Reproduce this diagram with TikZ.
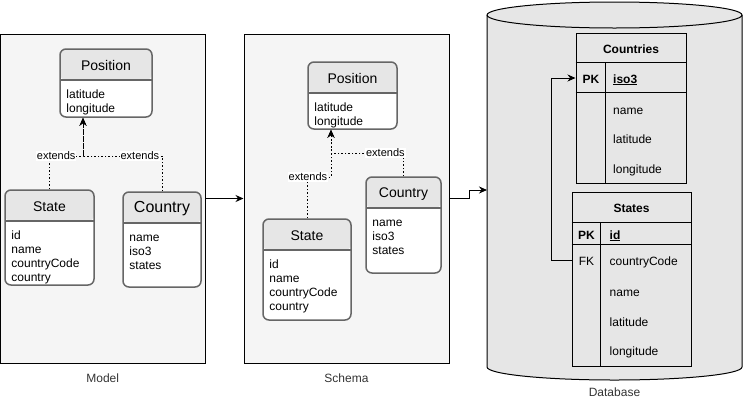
\documentclass[tikz,border=0pt]{standalone}
\usepackage{fontspec}
\setmainfont{Liberation Sans}
\usetikzlibrary{arrows.meta,positioning,calc}
\definecolor{panelfill}{HTML}{F5F5F5}
\definecolor{classline}{HTML}{666666}
\definecolor{classhead}{HTML}{E6E6E6}
\definecolor{dbfill}{HTML}{E6E6E6}
\definecolor{captiontext}{HTML}{333333}

\begin{document}
\begin{tikzpicture}[x=1pt, y=-1pt,
  panel/.style={draw, fill=panelfill, line width=1pt, minimum width=205pt, minimum height=329pt, inner sep=0pt},
  class/.style={draw=classline, line width=1.5pt, fill=white, rounded corners=6pt, inner sep=0pt,
    path picture={
      \fill[classhead] (path picture bounding box.north west) rectangle ([yshift=-31pt]path picture bounding box.north east);
      \draw[classline, line width=1.5pt] ([yshift=-31pt]path picture bounding box.north west) -- ([yshift=-31pt]path picture bounding box.north east);}},
  title/.style={font=\fontsize{14}{16}\selectfont, inner sep=0pt},
  items/.style={font=\fontsize{12}{14}\selectfont, align=left, anchor=north west, inner sep=0pt},
  ext/.style={dash pattern=on 1.5pt off 2pt, line width=1pt, -{Stealth[length=8pt,width=7pt]}},
  extlabel/.style={fill=white, inner sep=1pt, font=\fontsize{11}{13}\selectfont},
  arr/.style={line width=1pt, -{Stealth[length=8pt,width=7pt]}},
  tbl/.style={draw, line width=1pt, inner sep=0pt},
  cell/.style={font=\fontsize{12}{14}\selectfont, inner sep=0pt, text height=11pt, text depth=1pt},
  caption/.style={font=\fontsize{12}{14}\selectfont, text=captiontext}]
  \useasboundingbox (0,0) rectangle (743,402);

  % panels
  \node[panel, minimum width=204.5pt] (model) at (102.75,198.5) {};
  \node[panel] (schema) at (346.5,198.5) {};
  \node[caption] (modelcap) at (102.75,378) {Model};
  \node[caption] (schemacap) at (346.5,378) {Schema};

  % model classes
  \node[class, minimum width=92pt, minimum height=68pt] (mpos) at (106,83) {};
  \node[title] (mpostitle) at ([yshift=-17.5pt]mpos.north) {Position};
  \node[items] (mpositems) at ([xshift=7pt,yshift=-40pt]mpos.north west) {\strut latitude\\longitude};

  \node[class, minimum width=89pt, minimum height=95pt] (mstate) at (49.5,237.5) {};
  \node[title] (mstatetitle) at ([yshift=-17.5pt]mstate.north) {State};
  \node[items] (mstateitems) at ([xshift=7pt,yshift=-40pt]mstate.north west) {\strut id\\name\\countryCode\\country};

  \node[class, minimum width=78pt, minimum height=95pt] (mcountry) at (162,239.5) {};
  \node[title, font=\fontsize{16}{18}\selectfont] (mcountrytitle) at ([yshift=-17.5pt]mcountry.north) {Country};
  \node[items] (mcountryitems) at ([xshift=7pt,yshift=-40pt]mcountry.north west) {\strut name\\iso3\\states};

  \coordinate (mjoin) at (83,156);
  \draw[ext] (mstate.north) |- node[extlabel, pos=0.6] {extends} (mjoin) -- (mjoin |- mpos.south);
  \draw[ext] (mcountry.north) |- node[extlabel, pos=0.64] {extends} (mjoin) -- (mjoin |- mpos.south);

  % schema classes
  \node[class, minimum width=89pt, minimum height=67pt] (spos) at (352.5,95.5) {};
  \node[title] (spostitle) at ([yshift=-17.5pt]spos.north) {Position};
  \node[items] (spositems) at ([xshift=7pt,yshift=-40pt]spos.north west) {\strut latitude\\longitude};

  \node[class, minimum width=88pt, minimum height=101pt] (sstate) at (307,269.5) {};
  \node[title] (sstatetitle) at ([yshift=-17.5pt]sstate.north) {State};
  \node[items] (sstateitems) at ([xshift=7pt,yshift=-40pt]sstate.north west) {\strut id\\name\\countryCode\\country};

  \node[class, minimum width=75pt, minimum height=96pt] (scountry) at (403.5,225) {};
  \node[title] (scountrytitle) at ([yshift=-17.5pt]scountry.north) {Country};
  \node[items] (scountryitems) at ([xshift=7pt,yshift=-40pt]scountry.north west) {\strut name\\iso3\\states};

  \coordinate (sjoinA) at (331,177);
  \coordinate (sjoinB) at (331,153);
  \draw[ext] (sstate.north) |- node[extlabel, pos=0.52] {extends} (sjoinA) -- (sjoinA |- spos.south);
  \draw[ext] (scountry.north) |- node[extlabel, pos=0.625] {extends} (sjoinB) -- (sjoinB |- spos.south);

  % database
  \draw[fill=dbfill, line width=1pt] (487,15) -- (487,367)
    arc[start angle=180, end angle=360, x radius=127.5pt, y radius=13pt] -- (742,15)
    arc[start angle=0, end angle=180, x radius=127.5pt, y radius=13pt] -- cycle;
  \draw[line width=1pt] (487,15) arc[start angle=180, end angle=360, x radius=127.5pt, y radius=13pt];
  \coordinate (dbin) at (487,190);
  \node[caption] (dbcap) at (614.5,392) {Database};

  \node[tbl, minimum width=110pt, minimum height=150pt] (ctab) at (631,108) {};
  \draw[line width=1pt] ([yshift=-30pt]ctab.north west) -- ([yshift=-30pt]ctab.north east);
  \draw[line width=1pt] ([yshift=-60pt]ctab.north west) -- ([yshift=-60pt]ctab.north east);
  \draw[line width=1pt] ([xshift=30pt,yshift=-30pt]ctab.north west) -- ([xshift=30pt]ctab.south west);
  \node[cell] (ctitle) at (631,48) {\textbf{Countries}};
  \node[cell] (cpk) at (591,78) {\textbf{PK}};
  \node[cell, anchor=west] (ciso) at (613,78) {\textbf{\underline{iso3}}};
  \node[cell, anchor=west] (cname) at (613,109) {name};
  \node[cell, anchor=west] (clat) at (613,138) {latitude};
  \node[cell, anchor=west] (clon) at (613,168) {longitude};

  \node[tbl, minimum width=119pt, minimum height=174pt] (stab) at (631.5,279) {};
  \draw[line width=1pt] ([yshift=-31pt]stab.north west) -- ([yshift=-31pt]stab.north east);
  \draw[line width=1pt] ([yshift=-53pt]stab.north west) -- ([yshift=-53pt]stab.north east);
  \draw[line width=1pt] ([xshift=29pt,yshift=-31pt]stab.north west) -- ([xshift=29pt]stab.south west);
  \node[cell] (stitle) at (631.5,207) {\textbf{States}};
  \node[cell] (spk) at (586.5,234) {\textbf{PK}};
  \node[cell, anchor=west] (sid) at (609.5,234) {\textbf{\underline{id}}};
  \node[cell] (sfk) at (586.5,260) {FK};
  \node[cell, anchor=west] (scode) at (609.5,260) {countryCode};
  \node[cell, anchor=west] (sname) at (609.5,291) {name};
  \node[cell, anchor=west] (slat) at (609.5,321) {latitude};
  \node[cell, anchor=west] (slon) at (609.5,350) {longitude};

  \draw[arr] (sfk -| stab.west) -- ++(-20,0) |- (cpk -| ctab.west);

  % flow
  \draw[arr] (model.east) -- (schema.west);
  \draw[arr] (schema.east) -- ++(20,0) |- (dbin);
\end{tikzpicture}
\end{document}
